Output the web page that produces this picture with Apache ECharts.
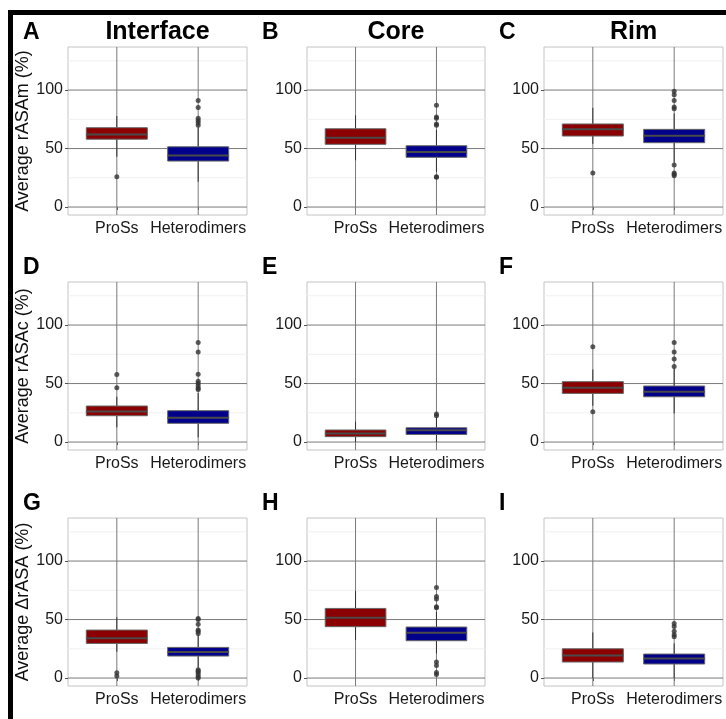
<!DOCTYPE html>
<html>
<head>
<meta charset="utf-8">
<script src="https://cdn.jsdelivr.net/npm/echarts@6/dist/echarts.min.js"></script>
<style>
	html, body { margin: 0; padding: 0; background: #fff; }
	#chart { width: 726px; height: 719px; }
</style>
</head>
<body>
<div id="chart"></div>
<script>
var categories = ['ProSs', 'Heterodimers'];
var panelLetters = ['A', 'B', 'C', 'D', 'E', 'F', 'G', 'H', 'I'];
var colTitles = ['Interface', 'Core', 'Rim'];
var rowTitles = ['Average rASAm (%)', 'Average rASAc (%)', 'Average \u0394rASA (%)'];
var yTicks = [0, 50, 100];

// [min, q1, median, q3, max] per panel A..I
var prossStats = [
	[43, 58, 62, 67.8, 77.8],
	[40, 53.6, 59.2, 66.9, 78.3],
	[54, 60.7, 66.4, 71, 84.8],
	[12.5, 22.5, 26.2, 30.8, 38.7],
	[0, 4.6, 7.4, 10.3, 17.4],
	[31, 41.6, 46.4, 51.6, 62],
	[22.5, 29.6, 34, 41, 52],
	[32.5, 43.9, 51.6, 59.5, 74.4],
	[0, 13.7, 19.3, 25, 39]
];
var heteroStats = [
	[21.6, 39.3, 44, 51.5, 68],
	[30, 42.5, 47, 52.4, 66],
	[38, 55, 61, 66.4, 80],
	[4, 16, 20.8, 26.8, 42],
	[0, 6.5, 10, 12.2, 21],
	[24.5, 38.7, 43, 47.9, 63],
	[9, 18.8, 22.2, 26.2, 37],
	[21, 31.9, 38.7, 43.6, 56.7],
	[0, 12, 16.8, 20.5, 29.6]
];
var prossOutliers = [
	[26],
	[],
	[29],
	[57.8, 46.4],
	[],
	[81.5, 26],
	[4.5, 1.7],
	[],
	[]
];
var heteroOutliers = [
	[91, 85, 76, 74, 72, 70],
	[87, 77, 76, 71, 70, 26, 25.5],
	[99, 96, 91, 85.5, 84, 36, 29, 28, 26.7],
	[85, 77, 58, 52, 50, 48, 46, 45],
	[24, 22.5],
	[85, 77, 71, 64.5],
	[51, 50, 46, 41, 40, 38, 7, 6, 5, 3, 1, 0],
	[77.5, 69.6, 67.6, 61, 60, 13.7, 10.8, 4.8, 3],
	[46.7, 44, 40, 37, 35.3]
];
var boxColors = ['#8b0000', '#00008b'];

var colLeft = [68, 307, 544];
var colWidth = [179, 178, 179];
var rowTop = [47, 282, 518];
var plotH = 168;
var font = 'Liberation Sans, Arial, sans-serif';

var grids = [], xAxes = [], yAxes = [], series = [], graphics = [];

function renderPanelGrid(params, api) {
	var cs = params.coordSys;
	var kids = [];
	[25, 75, 125].forEach(function (v) {
		var y = api.coord([1, v])[1];
		kids.push({type: 'line', shape: {x1: cs.x, y1: y, x2: cs.x + cs.width, y2: y}, style: {stroke: '#f0f0f0', lineWidth: 1}});
	});
	yTicks.forEach(function (v) {
		var y = api.coord([1, v])[1];
		kids.push({type: 'line', shape: {x1: cs.x, y1: y, x2: cs.x + cs.width, y2: y}, style: {stroke: '#7a7a7a', lineWidth: 1}});
	});
	[1, 2].forEach(function (v) {
		var x = api.coord([v, 0])[0];
		kids.push({type: 'line', shape: {x1: x, y1: cs.y, x2: x, y2: cs.y + cs.height}, style: {stroke: '#7a7a7a', lineWidth: 1}});
	});
	return {type: 'group', children: kids};
}

function renderBox(params, api) {
	var x = api.value(0);
	var pMin = api.coord([x, api.value(1)]);
	var pQ1 = api.coord([x, api.value(2)]);
	var pMed = api.coord([x, api.value(3)]);
	var pQ3 = api.coord([x, api.value(4)]);
	var pMax = api.coord([x, api.value(5)]);
	var half = api.size([0.375, 0])[0];
	var color = boxColors[params.dataIndex];
	return {
		type: 'group',
		children: [
			{type: 'line', shape: {x1: pMin[0], y1: pMin[1], x2: pQ1[0], y2: pQ1[1]}, style: {stroke: '#333', lineWidth: 1}},
			{type: 'line', shape: {x1: pQ3[0], y1: pQ3[1], x2: pMax[0], y2: pMax[1]}, style: {stroke: '#333', lineWidth: 1}},
			{type: 'rect', shape: {x: pQ3[0] - half, y: pQ3[1], width: half * 2, height: pQ1[1] - pQ3[1]}, style: {fill: color, stroke: '#666', lineWidth: 1}},
			{type: 'line', shape: {x1: pMed[0] - half, y1: pMed[1], x2: pMed[0] + half, y2: pMed[1]}, style: {stroke: '#4a4a4a', lineWidth: 2}}
		]
	};
}

for (var i = 0; i < 9; i++) {
	var r = Math.floor(i / 3), c = i % 3;
	grids.push({
		left: colLeft[c], top: rowTop[r], width: colWidth[c], height: plotH,
		show: true, borderColor: '#c4c4c4', borderWidth: 1, backgroundColor: '#fff'
	});
	xAxes.push({
		type: 'value', gridIndex: i, min: 0.4, max: 2.6,
		axisLine: {show: false}, splitLine: {show: false},
		axisTick: {show: true, customValues: [1, 2], length: 3, lineStyle: {color: '#555'}},
		axisLabel: {
			customValues: [1, 2], color: '#1a1a1a', fontSize: 16, margin: 6, fontFamily: font,
			formatter: function (v) { return categories[Math.round(v) - 1]; }
		}
	});
	yAxes.push({
		type: 'value', gridIndex: i, min: -6.8, max: 136.8,
		axisLine: {show: false}, splitLine: {show: false},
		axisTick: {show: true, customValues: yTicks, length: 3, lineStyle: {color: '#555'}},
		axisLabel: {customValues: yTicks, color: '#1a1a1a', fontSize: 16, margin: 5, fontFamily: font},
		name: c === 0 ? rowTitles[r] : '', nameLocation: 'middle', nameGap: 32,
		nameTextStyle: {fontSize: 18, color: '#111', fontFamily: font}
	});
	series.push({
		type: 'custom', xAxisIndex: i, yAxisIndex: i, silent: true, z: 1,
		data: [[1, 0]], renderItem: renderPanelGrid
	});
	series.push({
		type: 'custom', xAxisIndex: i, yAxisIndex: i, silent: true, z: 2,
		encode: {x: 0, y: [1, 2, 3, 4, 5]},
		data: [[1].concat(prossStats[i]), [2].concat(heteroStats[i])],
		renderItem: renderBox
	});
	var pts = prossOutliers[i].map(function (v) { return [1, v]; })
		.concat(heteroOutliers[i].map(function (v) { return [2, v]; }));
	series.push({
		type: 'scatter', xAxisIndex: i, yAxisIndex: i, silent: true, z: 3,
		symbolSize: 5, itemStyle: {color: '#333'}, data: pts
	});
	graphics.push({
		type: 'text', left: colLeft[c] - 45, top: rowTop[r] - 26,
		style: {text: panelLetters[i], fontSize: 23, fontWeight: 'bold', fill: '#000', fontFamily: font}
	});
}

for (var c2 = 0; c2 < 3; c2++) {
	graphics.push({
		type: 'text', x: colLeft[c2] + colWidth[c2] / 2, y: 32,
		style: {text: colTitles[c2], fontSize: 25, fontWeight: 'bold', fill: '#000',
			align: 'center', verticalAlign: 'middle', fontFamily: font}
	});
}
// frame
graphics.push({type: 'rect', shape: {x: 8, y: 10, width: 718, height: 5}, style: {fill: '#000'}});
graphics.push({type: 'rect', shape: {x: 8, y: 10, width: 5, height: 709}, style: {fill: '#000'}});

var chart = echarts.init(document.getElementById('chart'));
chart.setOption({
	backgroundColor: '#fff',
	animation: false,
	grid: grids,
	xAxis: xAxes,
	yAxis: yAxes,
	series: series,
	graphic: graphics
});
</script>
</body>
</html>
